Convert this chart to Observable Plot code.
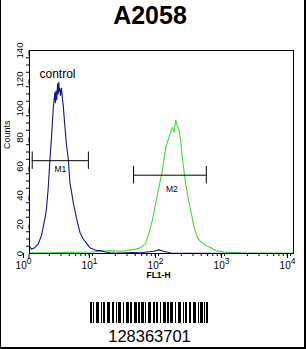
<!DOCTYPE html>
<html><head><meta charset="utf-8">
<script src="https://cdn.jsdelivr.net/npm/d3@7"></script>
<script src="https://cdn.jsdelivr.net/npm/@observablehq/plot@0.6"></script>
<style>
body{margin:0;background:#fff;}
#wrap{position:relative;width:306px;height:349px;overflow:hidden;background:#fff;font-family:"Liberation Sans",Arial,sans-serif;color:#000;}
#border{position:absolute;left:0;top:0;width:306px;height:349px;box-sizing:border-box;border-left:1px solid #000;border-right:2px solid #000;border-bottom:2px solid #000;pointer-events:none;}
#title{position:absolute;left:0;top:3px;width:300px;text-align:center;font-weight:bold;font-size:25px;line-height:25px;}
#chart{position:absolute;left:0;top:0;}
#barcode{position:absolute;left:90px;top:302px;line-height:0;}
#code{position:absolute;left:0;width:299px;top:328px;text-align:center;font-size:16.5px;line-height:16.5px;}
</style></head>
<body><div id="wrap"><div id="title">A2058</div><div id="chart"></div><div id="barcode"></div><div id="code">128363701</div><div id="border"></div></div>
<script>
// ---- data ----
const controlFL = [1.00,1.07,1.20,1.36,1.52,1.71,1.81,1.92,2.03,2.16,2.29,2.42,2.47,2.52,2.59,2.66,2.72,2.78,2.83,2.88,2.95,3.06,3.15,3.25,3.43,3.64,3.87,4.09,4.35,4.61,5.17,5.80,6.53,7.33,8.22,9.26,10.4,11.9,14.2,16.9,24.0,35,48.3,76.2,90.7,108,138,394,9900];
const controlCount = [5,3,4,6.7,12.4,24,31,45,63,81,100,111,104,112,106,117,110,118,112,114,109,114,107,102,88,74.5,65.5,49,42,35,24,14.7,10,7,4,3,2,2,1,0.5,0.3,0.6,0.5,1.5,2.5,1.5,0.3,0.2,0];
const sampleFL = [1.00,2.0,4.0,8.4,11.9,16.9,24.0,30,34.1,40.6,48.3,57.6,64.6,72.8,81.7,91.6,103,110,116,123,130,138,146,156,164,174,184,195,207,219,232,247,262,277,311,351,394,430,469,558,664,879,1592,9900];
const sampleCount = [0.5,0.5,0.8,1,1.5,2,1.5,2,2.5,3,4,7,14,23,34.5,46,57,66,73,77,80,84,87,84,92,88,85,78,66,57,48,41,35,30,18,11,8,7,5.5,4,2,1,0.5,0.3];
const gateNames = ["M1","M2"];
const gateLo = [1.1, 37.7];
const gateHi = [7.8, 477];
const gateCount = [64, 54];
const xMajorTicks = [1,10,100,1000,10000];
const yMajorTicks = [0,20,40,60,80,100,120,140];
const titleText = "A2058";
const xLabel = "FL1-H";
const yLabel = "Counts";
const controlLabel = "control";
const barcodeText = "128363701";
const barcodePattern = "11010011100101100111001100101110010011101100111011011101001110011011001001110110111001001110010110011001110010" + "11101011";

// ---- build tables ----
const control = controlFL.map((fl,i)=>({fl, count: controlCount[i]}));
const sample = sampleFL.map((fl,i)=>({fl, count: sampleCount[i]}));
const gates = gateNames.map((name,i)=>({name, lo: gateLo[i], hi: gateHi[i], count: gateCount[i]}));
const xMinorTicks = [];
for (let k = 0; k < 4; k++) for (let m = 2; m <= 9; m++) xMinorTicks.push(m * Math.pow(10, k));
const yMinorTicks = d3.range(0, 141, 5).filter(v => v % 20 !== 0);

document.getElementById("title").textContent = titleText;
document.getElementById("code").textContent = barcodeText;

const font = '"Liberation Sans", Arial, sans-serif';
const chart = Plot.plot({
  width: 306, height: 290,
  marginTop: 50, marginLeft: 29, marginRight: 13, marginBottom: 37,
  style: {fontFamily: font, fontSize: "9px", background: "transparent", color: "#000"},
  x: {type: "log", domain: [1, 10000]},
  y: {domain: [0, 140]},
  marks: [
    Plot.axisY(yMinorTicks, {tickSize: 3, tickFormat: () => "", label: null}),
    Plot.axisY(yMajorTicks, {tickSize: 5, tickPadding: 2, rotate: -90, textAnchor: "middle", lineAnchor: "bottom", fontSize: 9.5, label: null}),
    Plot.axisX(xMinorTicks, {tickSize: 3, tickFormat: () => "", label: null}),
    Plot.axisX(xMajorTicks, {tickSize: 5, tickPadding: 3, dx: -6, fontSize: 10, tickFormat: d => String(Math.round(Math.log10(d))), label: null}),
    Plot.line(sample, {x: "fl", y: "count", stroke: "#3ddc3d", strokeWidth: 1.1}),
    Plot.line(control, {x: "fl", y: "count", stroke: "#15158a", strokeWidth: 1.1}),
    Plot.frame({stroke: "#000"}),
    Plot.ruleY(gates, {y: "count", x1: "lo", x2: "hi", stroke: "#000", strokeWidth: 1}),
    Plot.ruleX(gates, {x: "lo", y1: d => d.count - 6, y2: d => d.count + 6, stroke: "#000"}),
    Plot.ruleX(gates, {x: "hi", y1: d => d.count - 6, y2: d => d.count + 6, stroke: "#000"}),
    Plot.text(gates.filter(d => d.name === "M1"), {x: d => Math.sqrt(d.lo * d.hi), y: "count", text: "name", dy: 9, fontSize: 8.5}),
    Plot.text(gates.filter(d => d.name === "M2"), {x: d => Math.sqrt(d.lo * d.hi), y: "count", text: "name", dy: 14, dx: 2, fontSize: 8.5}),
    Plot.text([controlLabel], {text: d => d, frameAnchor: "top-left", textAnchor: "start", dx: 10, dy: 19, fontSize: 12}),
    Plot.text([xLabel], {text: d => d, frameAnchor: "bottom", dy: 24, dx: -3, fontSize: 8.5, fontWeight: "bold"}),
    Plot.text([yLabel], {text: d => d, frameAnchor: "left", rotate: -90, dx: -22.5, dy: -3, fontSize: 9})
  ]
});
// superscript exponents on the log-axis tick labels
chart.querySelectorAll('g[aria-label="x-axis tick label"] text').forEach(t => {
  const e = t.textContent;
  if (e === "") return;
  t.textContent = "10";
  const ts = document.createElementNS("http://www.w3.org/2000/svg", "tspan");
  ts.setAttribute("dy", "-4.5");
  ts.setAttribute("font-size", "8.5");
  ts.textContent = e;
  t.appendChild(ts);
});
document.getElementById("chart").appendChild(chart);

// barcode
const modules = barcodePattern.split("").map((b, i) => ({i, b: +b})).filter(d => d.b === 1);
const bc = Plot.plot({
  width: barcodePattern.length, height: 21, margin: 0,
  style: {background: "transparent"},
  x: {domain: [0, barcodePattern.length], axis: null},
  y: {domain: [0, 1], axis: null},
  marks: [Plot.rect(modules, {x1: "i", x2: d => d.i + 1, y1: 0, y2: 1, fill: "#000"})]
});
document.getElementById("barcode").appendChild(bc);
</script>
</body></html>
